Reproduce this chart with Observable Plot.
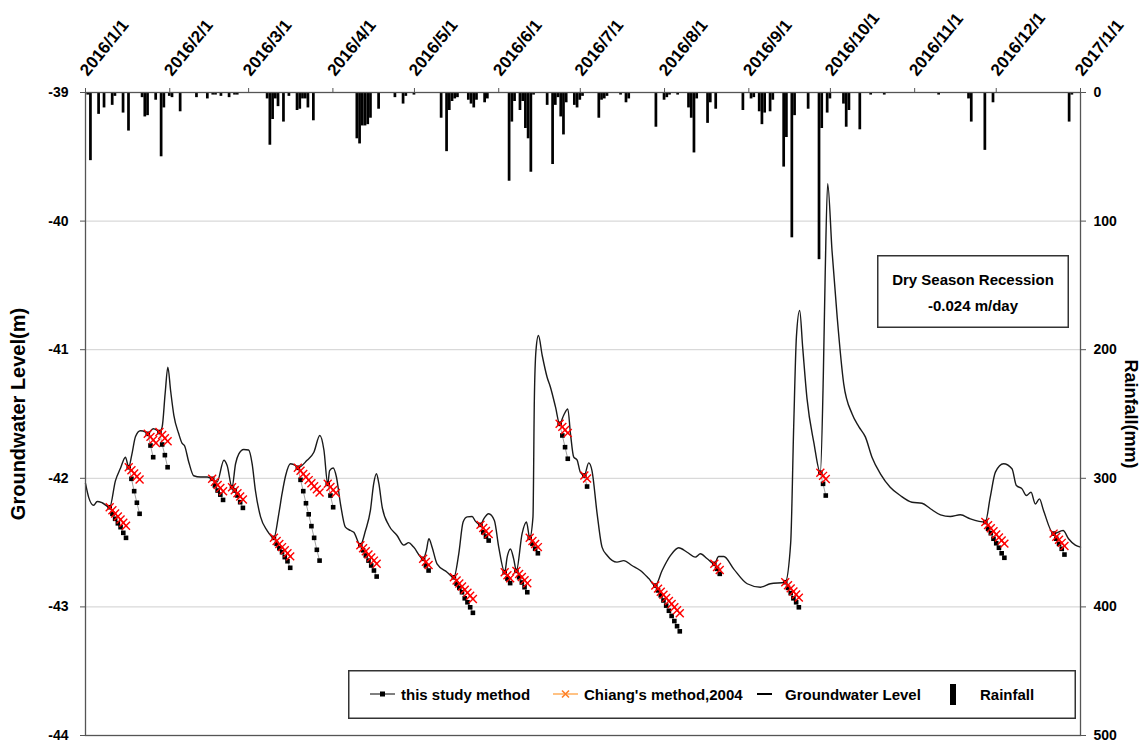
<!DOCTYPE html>
<html><head><meta charset="utf-8">
<script src="https://cdn.jsdelivr.net/npm/d3@7"></script>
<script src="https://cdn.jsdelivr.net/npm/@observablehq/plot@0.6"></script>
<style>
body{margin:0;background:#fff;font-family:"Liberation Sans",Arial,sans-serif;}
#wrap{position:relative;width:1142px;height:742px;overflow:hidden;}
.ov{position:absolute;}
</style></head><body><div id="wrap"></div>
<script>
// x positions are days since 2016-01-01
const monthLabels = ["2016/1/1","2016/2/1","2016/3/1","2016/4/1","2016/5/1","2016/6/1","2016/7/1","2016/8/1","2016/9/1","2016/10/1","2016/11/1","2016/12/1","2017/1/1"];
const levelTicks = [-44,-43,-42,-41,-40,-39];
const rainTicks = [500,400,300,200,100,0];
const gridLevels = [-43,-42,-41,-40];

// [day, groundwater level (m)]
const groundwater = [[0,-42.04],[1.2,-42.15],[3,-42.21],[4.3,-42.18],[6.1,-42.19],[8.9,-42.225],[11,-42.02],[12.9,-41.92],[14.7,-41.836],[15.9,-41.914],[17,-41.82],[18.4,-41.675],[20.2,-41.63],[22.1,-41.64],[22.9,-41.654],[24.9,-41.615],[26.4,-41.628],[27.2,-41.64],[28.2,-41.60],[29.3,-41.34],[30.3,-41.136],[31.3,-41.317],[32.5,-41.51],[34.3,-41.654],[35.5,-41.727],[36.4,-41.745],[38,-41.875],[39.8,-41.98],[42.3,-41.99],[44.8,-41.99],[46.6,-42.004],[48.4,-42.03],[50.9,-41.86],[52.1,-41.90],[53.9,-42.069],[55.2,-41.887],[56.4,-41.81],[58.2,-41.776],[60,-41.78],[61.3,-41.887],[62.5,-42.095],[64.4,-42.30],[66.8,-42.406],[69.3,-42.463],[71.1,-42.276],[72.3,-42.12],[73.6,-41.98],[75.4,-41.887],[77.2,-41.90],[78.1,-41.918],[81.5,-41.86],[84,-41.797],[86.2,-41.667],[87.7,-41.78],[89.1,-42.043],[89.8,-41.94],[91.1,-41.92],[92.3,-41.99],[93.8,-42.20],[95.6,-42.38],[97.5,-42.406],[98.7,-42.42],[101.1,-42.52],[103,-42.406],[104.8,-42.25],[106,-42.043],[107,-41.965],[107.9,-42.04],[109.1,-42.22],[111.6,-42.367],[114.6,-42.445],[117.1,-42.52],[118.9,-42.50],[120.7,-42.535],[124.2,-42.626],[125.4,-42.56],[126.3,-42.47],[127.5,-42.536],[129.3,-42.665],[133,-42.73],[135.5,-42.77],[137.3,-42.587],[138.9,-42.34],[140.4,-42.30],[142.2,-42.297],[143.4,-42.333],[145.3,-42.362],[146.5,-42.315],[148.3,-42.276],[150.4,-42.328],[152,-42.535],[154.2,-42.73],[155.1,-42.613],[156.3,-42.55],[157.5,-42.626],[158.5,-42.72],[160.6,-42.43],[162.2,-42.34],[163.4,-42.463],[164.6,-42.30],[165.1,-41.395],[165.7,-41.006],[166.6,-40.89],[168,-41.045],[169.8,-41.214],[171,-41.29],[172.9,-41.447],[174.4,-41.576],[175.9,-41.51],[177.4,-41.46],[178.4,-41.654],[179.6,-41.836],[180.8,-41.856],[182,-41.952],[183.5,-41.978],[185.1,-41.88],[186.3,-41.94],[188.2,-42.276],[190,-42.535],[191.9,-42.60],[195.5,-42.652],[198,-42.64],[201,-42.678],[204.1,-42.717],[207.2,-42.78],[209.6,-42.834],[212.1,-42.717],[215.2,-42.60],[218.2,-42.54],[221.3,-42.575],[224.3,-42.613],[226.2,-42.587],[228.7,-42.626],[231.3,-42.665],[232.9,-42.608],[234.8,-42.608],[238.4,-42.704],[243.4,-42.82],[248.3,-42.847],[251.9,-42.82],[257.4,-42.808],[259.4,-42.5],[260.5,-41.6],[261.5,-40.9],[262.7,-40.695],[263.8,-40.98],[265.4,-41.38],[267.9,-41.72],[270.3,-41.957],[271.4,-41.2],[272.1,-40.4],[273,-39.71],[274.6,-40.23],[276.5,-40.747],[278.9,-41.265],[282,-41.5],[284.5,-41.60],[286.9,-41.68],[289.3,-41.836],[292.4,-41.965],[296,-42.069],[299.7,-42.134],[304,-42.186],[307.7,-42.194],[310.8,-42.237],[314.5,-42.284],[318.1,-42.297],[321.8,-42.284],[325.5,-42.315],[331,-42.34],[332.8,-42.147],[334.7,-41.952],[337.7,-41.887],[340.8,-41.926],[342.4,-42.056],[344.5,-42.082],[346.1,-42.134],[347.8,-42.108],[349.4,-42.2],[350.9,-42.16],[352.4,-42.25],[356.1,-42.43],[359.6,-42.406],[361.6,-42.47],[364.1,-42.52],[366,-42.535]];

// [day, rainfall (mm)]
const rainfall = [[1,2],[2,53],[5,17],[7,12],[10,10],[11,3],[14,16],[16,30],[21,4],[22,19],[23,18],[26,6],[28,50],[29,12],[31,3],[32,4],[35,15],[41,4],[45,5],[47,2],[48,2],[50,3],[53,4],[55,2],[56,2],[67,5],[68,41],[69,21],[70,5],[71,11],[73,23],[75,3],[78,14],[79,13],[80,5],[81,5],[82,12],[84,22],[100,36],[101,40],[102,26],[103,26],[104,25],[105,20],[108,13],[114,4],[117,9],[118,3],[121,2],[131,20],[133,46],[134,14],[135,7],[136,5],[137,4],[141,6],[142,9],[143,12],[144,6],[147,8],[148,5],[156,69],[157,23],[158,7],[160,14],[161,7],[162,28],[163,36],[164,62],[165,2],[170,10],[172,56],[173,10],[174,4],[175,19],[176,33],[177,8],[180,10],[181,12],[182,6],[183,3],[189,20],[190,6],[191,5],[192,3],[197,2],[199,8],[200,5],[210,27],[213,6],[214,4],[215,2],[218,2],[222,12],[223,20],[224,47],[225,5],[229,24],[230,8],[232,13],[242,14],[245,5],[246,4],[248,15],[249,25],[250,16],[252,15],[253,6],[257,58],[258,35],[260,113],[261,18],[266,13],[270,130],[271,28],[273,16],[274,5],[279,9],[280,27],[281,14],[285,29],[289,2],[294,2],[314,2],[325,5],[326,23],[331,45],[334,8],[362,23],[363,2]];

// recession segments: start day, then one value per day
const recessionStart = [8.9,15.9,22.9,27.2,46.6,53.9,69.3,78.1,89.1,101.1,124.2,135.5,145.3,154.2,158.5,163.4,174.4,183.5,209.6,231.3,257.4,270.3,331,356.1];
const studyMethod = [
 [-42.225,-42.276,-42.315,-42.35,-42.38,-42.424,-42.463],
 [-41.914,-42.004,-42.10,-42.19,-42.276],
 [-41.654,-41.745,-41.836],
 [-41.64,-41.737,-41.82,-41.914],
 [-42.004,-42.056,-42.095,-42.127,-42.168],
 [-42.069,-42.095,-42.134,-42.186,-42.23],
 [-42.463,-42.51,-42.544,-42.575,-42.613,-42.645,-42.696],
 [-41.918,-42.012,-42.10,-42.194,-42.28,-42.372,-42.463,-42.556,-42.64],
 [-42.043,-42.134,-42.225],
 [-42.52,-42.56,-42.60,-42.64,-42.678,-42.717,-42.764],
 [-42.626,-42.678,-42.717],
 [-42.77,-42.82,-42.852,-42.886,-42.933,-42.964,-43.003,-43.046],
 [-42.362,-42.42,-42.453,-42.484],
 [-42.73,-42.78,-42.815],
 [-42.72,-42.77,-42.81,-42.847,-42.886],
 [-42.463,-42.51,-42.548,-42.583],
 [-41.576,-41.667,-41.758,-41.848],
 [-41.978,-42.064],
 [-42.834,-42.872,-42.91,-42.95,-42.99,-43.03,-43.07,-43.11,-43.15,-43.19],
 [-42.665,-42.704,-42.743],
 [-42.808,-42.852,-42.893,-42.933,-42.964,-43.003],
 [-41.957,-42.043,-42.134],
 [-42.34,-42.392,-42.427,-42.47,-42.505,-42.54,-42.583,-42.618],
 [-42.43,-42.47,-42.51,-42.548,-42.593]
];
const chiangMethod = [
 [-42.225,-42.249,-42.273,-42.297,-42.321,-42.345,-42.369],
 [-41.914,-41.938,-41.962,-41.986,-42.010],
 [-41.654,-41.678,-41.702,-41.726],
 [-41.64,-41.664,-41.688,-41.712],
 [-42.004,-42.028,-42.052,-42.076,-42.100],
 [-42.069,-42.093,-42.117,-42.141,-42.165],
 [-42.463,-42.487,-42.511,-42.535,-42.559,-42.583,-42.607],
 [-41.918,-41.942,-41.966,-41.990,-42.014,-42.038,-42.062,-42.086,-42.110],
 [-42.043,-42.067,-42.091,-42.115],
 [-42.52,-42.544,-42.568,-42.592,-42.616,-42.640,-42.664],
 [-42.626,-42.650,-42.674],
 [-42.77,-42.794,-42.818,-42.842,-42.866,-42.890,-42.914,-42.938],
 [-42.362,-42.386,-42.410,-42.434],
 [-42.73,-42.754,-42.778],
 [-42.72,-42.744,-42.768,-42.792,-42.816],
 [-42.463,-42.487,-42.511,-42.535],
 [-41.576,-41.600,-41.624,-41.648],
 [-41.978,-42.002],
 [-42.834,-42.858,-42.882,-42.906,-42.930,-42.954,-42.978,-43.002,-43.026,-43.050],
 [-42.665,-42.689,-42.713],
 [-42.808,-42.832,-42.856,-42.880,-42.904,-42.928],
 [-41.957,-41.981,-42.005],
 [-42.34,-42.364,-42.388,-42.412,-42.436,-42.460,-42.484,-42.508],
 [-42.43,-42.454,-42.478,-42.502,-42.526]
];

const t0 = Date.UTC(2016,0,1);
const day = d => new Date(t0 + d*864e5);
const monthDates = d3.utcMonth.range(day(0), day(367));
const rainToLevel = mm => -39 - mm/100;

const gwData = groundwater.map(([d,v]) => ({x: day(d), y: v}));
const rainData = rainfall.map(([d,mm]) => ({x1: day(d-0.5), x2: day(d+0.5), y2: rainToLevel(mm)}));
const studyData = recessionStart.flatMap((s,i) => studyMethod[i].map((v,k) => ({x: day(s+k), y: v, seg: i})));
const chiangData = recessionStart.flatMap((s,i) => chiangMethod[i].map((v,k) => ({x: day(s+k), y: v, seg: i})));

const font = '"Liberation Sans", Arial, sans-serif';
const chart = Plot.plot({
  width: 1142, height: 742,
  marginLeft: 85, marginRight: 62, marginTop: 92, marginBottom: 7,
  x: {type: "utc", domain: [day(0), day(366)]},
  y: {domain: [-44, -39]},
  style: {fontFamily: font, fontWeight: "bold", fontSize: "14px", color: "#000", background: "#fff", overflow: "visible"},
  marks: [
    Plot.ruleY(gridLevels, {stroke: "#d9d9d9", strokeWidth: 1.2}),
    Plot.rect(rainData, {x1: "x1", x2: "x2", y1: -39, y2: "y2", fill: "#000"}),
    Plot.line(gwData, {x: "x", y: "y", stroke: "#1a1a1a", strokeWidth: 1.4, curve: "monotone-x"}),
    Plot.line(studyData, {x: "x", y: "y", z: "seg", stroke: "#888", strokeWidth: 0.8}),
    Plot.dot(studyData, {x: "x", y: "y", symbol: "square", fill: "#000", r: 2.6}),
    Plot.dot(chiangData, {x: "x", y: "y", symbol: "times", stroke: "#ff0000", r: 3.7, strokeWidth: 1.4}),
    Plot.frame({stroke: "#555", strokeWidth: 1.3}),
    Plot.axisY({anchor: "left", ticks: levelTicks, tickSize: 5, tickPadding: 12, tickFormat: d => String(d), label: null, stroke: "#555", fontSize: 14, fontWeight: "bold"}),
    Plot.axisY({anchor: "right", ticks: levelTicks, tickSize: 5, tickPadding: 8, tickFormat: d => String(rainTicks[levelTicks.indexOf(d)]), label: null, stroke: "#555", fontSize: 14, fontWeight: "bold"}),
    Plot.axisX({anchor: "top", ticks: monthDates, tickSize: 5, tickFormat: () => "", label: null, stroke: "#555"}),
    Plot.text(monthDates, {x: d => d, text: (d, i) => monthLabels[i], frameAnchor: "top", rotate: -51, textAnchor: "start", lineAnchor: "middle", dy: -19, dx: -2, fontSize: 17, fontWeight: "bold"}),
    Plot.text(["Groundwater Level(m)"], {text: d => d, frameAnchor: "left", textAnchor: "middle", rotate: -90, dx: -67, fontSize: 20, fontWeight: "bold"}),
    Plot.text(["Rainfall(mm)"], {text: d => d, frameAnchor: "right", textAnchor: "middle", rotate: 90, dx: 50, fontSize: 18, fontWeight: "bold"})
  ]
});
const wrap = document.getElementById("wrap");
wrap.appendChild(chart);

// annotation box
const ann = document.createElement("div");
ann.className = "ov";
ann.style.cssText = "left:877px;top:255px;";
ann.innerHTML = `<svg width="192" height="73" style="display:block;font-family:${font.replace(/"/g,"'")};font-weight:bold;font-size:15px">
<rect x="0.75" y="0.75" width="190.5" height="71.5" fill="#fff" stroke="#333" stroke-width="1.5"/>
<text x="96" y="24.5" text-anchor="middle" dominant-baseline="central">Dry Season Recession</text>
<text x="96" y="50" text-anchor="middle" dominant-baseline="central">-0.024 m/day</text></svg>`;
wrap.appendChild(ann);

// legend
const leg = document.createElement("div");
leg.className = "ov";
leg.style.cssText = "left:348px;top:670px;";
leg.innerHTML = `<svg width="728" height="49" style="display:block;font-family:${font.replace(/"/g,"'")};font-weight:bold;font-size:15px">
<rect x="0.75" y="0.75" width="726.5" height="47.5" fill="#fff" stroke="#333" stroke-width="1.5"/>
<line x1="22" x2="47" y1="24" y2="24" stroke="#000" stroke-width="1"/>
<rect x="32" y="21.5" width="5" height="5" fill="#000"/>
<text x="53" y="24" dominant-baseline="central">this study method</text>
<line x1="205" x2="230" y1="24" y2="24" stroke="#ff9933" stroke-width="1.2"/>
<path d="M214,20.5L221,27.5M221,20.5L214,27.5" stroke="#ff7f27" stroke-width="1.6"/>
<text x="236" y="24" dominant-baseline="central">Chiang's method,2004</text>
<line x1="409" x2="424" y1="24" y2="24" stroke="#000" stroke-width="2"/>
<text x="437" y="24" dominant-baseline="central">Groundwater Level</text>
<rect x="602" y="14" width="6" height="21" fill="#000"/>
<text x="632" y="24" dominant-baseline="central">Rainfall</text></svg>`;
wrap.appendChild(leg);
</script></body></html>
